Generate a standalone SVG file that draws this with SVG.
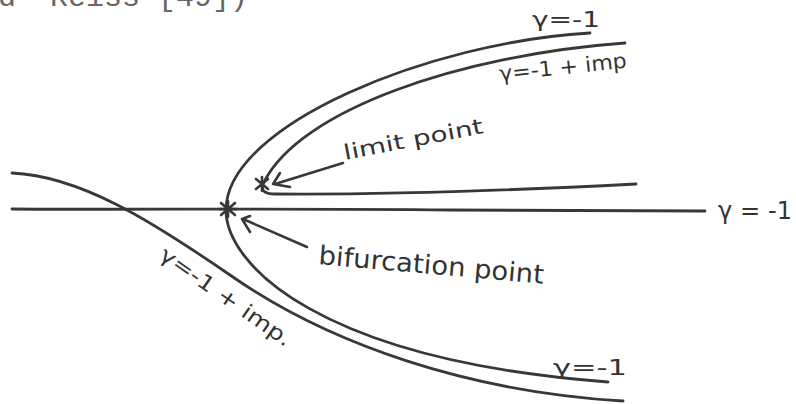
<svg xmlns="http://www.w3.org/2000/svg" width="796" height="404" viewBox="0 0 796 404">
<defs>
<style>
.c{fill:none;stroke:#383838;stroke-width:2.8;stroke-linecap:round;stroke-linejoin:round}
.a{fill:none;stroke:#383838;stroke-width:2.6;stroke-linecap:round;stroke-linejoin:round}
.t{font-family:"DejaVu Sans","Liberation Sans",sans-serif;fill:#333}
.tw{font-family:"Liberation Mono","DejaVu Sans Mono",monospace;fill:#666;font-size:30px}
</style>
</defs>
<rect width="796" height="404" fill="#ffffff"/>
<g id="header">
<text class="tw" y="6"><tspan x="-2">d</tspan><tspan x="50">Reiss</tspan><tspan x="158">[49])</tspan></text>
</g>
<g id="connectors">
<path id="axis" class="c" d="M12 209 C120 210 300 208 450 210 C560 211 640 210 705 211"/>
<path id="outer-branch" class="c" d="M590 33 C430 42 226 125 226 210 C226 265 320 360 608 382"/>
<path id="inner-branch" class="c" d="M625 43 C460 55 300 110 264 182 Q258 194 275 194 C400 195 520 190 636 184"/>
<path id="imp-line" class="c" d="M12 173 C80 176 150 220 230 275 C330 345 470 392 623 401"/>
<g id="arrow-limit">
<path class="a" d="M343 163 L275 184 M280 173 L273 184 L290 187"/>
</g>
<g id="arrow-bif">
<path class="a" d="M307 247 L243 219 M250 216 L242 219 L250 232"/>
</g>
</g>
<g id="bifurcation-point">
<path class="a" d="M221 203 L235 215 M235 203 L221 215 M228 201 L228 217 M219 209 L237 209"/>
</g>
<g id="limit-point">
<path class="a" d="M256 179 L268 189 M268 179 L256 189 M262 177 L262 191"/>
</g>
<g id="labels">
<text class="t" x="532" y="27" font-size="22" textLength="68" lengthAdjust="spacingAndGlyphs">γ=-1</text>
<text class="t" x="500" y="81" font-size="21" textLength="128" lengthAdjust="spacingAndGlyphs" transform="rotate(-6 500 81)">γ=-1 + imp</text>
<text class="t" x="345" y="160" font-size="21" textLength="142" lengthAdjust="spacingAndGlyphs" transform="rotate(-11 345 160)">limit point</text>
<text class="t" x="318" y="264" font-size="26" textLength="226" lengthAdjust="spacingAndGlyphs" transform="rotate(5 318 264)">bifurcation point</text>
<text class="t" x="718" y="219" font-size="24" textLength="74" lengthAdjust="spacingAndGlyphs">γ = -1</text>
<text class="t" x="158" y="258" font-size="21" textLength="156" lengthAdjust="spacingAndGlyphs" transform="rotate(35 158 258)">γ=-1 + imp.</text>
<text class="t" x="553" y="375" font-size="22" textLength="74" lengthAdjust="spacingAndGlyphs">γ=-1</text>
</g>
</svg>
